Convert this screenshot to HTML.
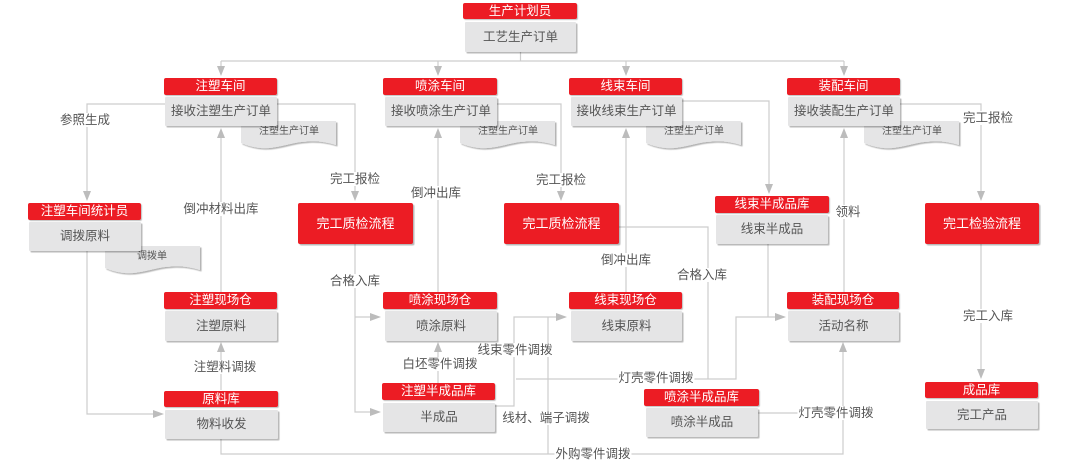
<!DOCTYPE html>
<html><head><meta charset="utf-8">
<style>
html,body{margin:0;padding:0;background:#fff;}
#c{position:relative;width:1080px;height:473px;overflow:hidden;background:#fff;font-family:"Liberation Sans","Noto Sans CJK SC",sans-serif;}
svg{position:absolute;left:0;top:0;}
.h{position:absolute;background:#ec1c24;color:#fff;font-size:12.5px;text-align:center;border-radius:2px;box-shadow:1px 1px 1px rgba(0,0,0,.25);white-space:nowrap;}
.b{position:absolute;background:#e5e5e6;color:#555;font-size:12.5px;text-align:center;border-radius:1px;box-shadow:1.5px 1.5px 1px rgba(0,0,0,.28);white-space:nowrap;}
.r{position:absolute;background:#ec1c24;color:#fff;font-size:13px;text-align:center;border-radius:2px;box-shadow:1.5px 1.5px 1px rgba(0,0,0,.28);white-space:nowrap;}
.l{position:absolute;background:#fff;color:#555;font-size:12.5px;line-height:14px;padding:0 1px;white-space:nowrap;transform:translate(-50%,-50%);}
</style></head><body>
<div id="c">
<svg width="1080" height="473" viewBox="0 0 1080 473">
<defs>
<filter id="sh" x="-10%" y="-10%" width="130%" height="140%"><feDropShadow dx="1.5" dy="1.5" stdDeviation="0.6" flood-color="#000" flood-opacity="0.3"/></filter>
<path id="doc" d="M0,0 H95 V24 C85,21 75,19 60,21 C45,23 35,28 20,27 C10,26 5,24 0,22 Z"/>
</defs>
<g fill="#e5e5e6" filter="url(#sh)">
<use href="#doc" x="241" y="121"/>
<use href="#doc" x="460" y="121"/>
<use href="#doc" x="646" y="121"/>
<use href="#doc" x="864" y="121"/>
<use href="#doc" x="105" y="246"/>
</g>
<g font-family="Liberation Sans, Noto Sans CJK SC, sans-serif" font-size="10" fill="#555" text-anchor="middle">
<text x="289" y="134">注塑生产订单</text>
<text x="508" y="134">注塑生产订单</text>
<text x="694" y="134">注塑生产订单</text>
<text x="912" y="134">注塑生产订单</text>
<text x="152" y="259">调拨单</text>
</g>
<g fill="none" stroke="#cdcdcd" stroke-width="1.2">
<path d="M520.5,52 V61"/>
<path d="M221,61 H844"/>
<path d="M221,61 V70 M438,61 V70 M626,61 V70 M844,61 V70"/>
<path d="M277,104 H355 V195"/>
<path d="M165,104 H87 V195"/>
<path d="M221,292 V134"/>
<path d="M497,104 H561 V195"/>
<path d="M438,292 V134"/>
<path d="M682,101 H769 V188"/>
<path d="M626,292 V134"/>
<path d="M900,104 H981 V195"/>
<path d="M844,292 V134"/>
<path d="M87,251 V414 H156"/>
<path d="M221,390 V348"/>
<path d="M221,439 V454 H843 V348"/>
<path d="M355,244 V412 H373"/>
<path d="M355,317 H373"/>
<path d="M438,383 V348"/>
<path d="M495,406 H514 V317 H559"/>
<path d="M516,379 H736 V317 H778"/>
<path d="M548,317 V454"/>
<path d="M619,227 H708 V379"/>
<path d="M768,244 V317"/>
<path d="M758,413 H843"/>
<path d="M981,244 V373"/>
</g>
<g fill="#bcbcbc">
<!-- down arrows -->
<polygon points="217,66 225,66 221,76"/>
<polygon points="434,66 442,66 438,76"/>
<polygon points="622,66 630,66 626,76"/>
<polygon points="840,66 848,66 844,76"/>
<polygon points="351,191 359,191 355,201"/>
<polygon points="83,191 91,191 87,201"/>
<polygon points="557,191 565,191 561,201"/>
<polygon points="765,184 773,184 769,194"/>
<polygon points="977,191 985,191 981,201"/>
<polygon points="977,369 985,369 981,379"/>
<!-- up arrows -->
<polygon points="217,138 225,138 221,128"/>
<polygon points="434,138 442,138 438,128"/>
<polygon points="622,138 630,138 626,128"/>
<polygon points="840,138 848,138 844,128"/>
<polygon points="217,352 225,352 221,342"/>
<polygon points="434,352 442,352 438,342"/>
<polygon points="839,352 847,352 843,342"/>
<!-- right arrows -->
<polygon points="153,410 153,418 164,414"/>
<polygon points="370,313 370,321 381,317"/>
<polygon points="370,408 370,416 381,412"/>
<polygon points="556,313 556,321 567,317"/>
<polygon points="775,313 775,321 786,317"/>
</g>
</svg>

<!-- labels -->
<div class="l" style="left:85px;top:120px">参照生成</div>
<div class="l" style="left:355px;top:179px">完工报检</div>
<div class="l" style="left:221px;top:209px">倒冲材料出库</div>
<div class="l" style="left:436px;top:193px">倒冲出库</div>
<div class="l" style="left:561px;top:180px">完工报检</div>
<div class="l" style="left:626px;top:260px">倒冲出库</div>
<div class="l" style="left:848px;top:212px">领料</div>
<div class="l" style="left:988px;top:118px">完工报检</div>
<div class="l" style="left:988px;top:316px">完工入库</div>
<div class="l" style="left:355px;top:281px">合格入库</div>
<div class="l" style="left:702px;top:275px">合格入库</div>
<div class="l" style="left:225px;top:367px">注塑料调拨</div>
<div class="l" style="left:440px;top:364px">白坯零件调拨</div>
<div class="l" style="left:515px;top:350px">线束零件调拨</div>
<div class="l" style="left:656px;top:378px">灯壳零件调拨</div>
<div class="l" style="left:546px;top:418px">线材、端子调拨</div>
<div class="l" style="left:593px;top:454px">外购零件调拨</div>
<div class="l" style="left:836px;top:413px">灯壳零件调拨</div>

<!-- boxes -->
<div class="h" style="left:463px;top:3px;width:114px;height:16px;line-height:16px">生产计划员</div>
<div class="b" style="left:465px;top:22px;width:111px;height:30px;line-height:30px">工艺生产订单</div>

<div class="h" style="left:164px;top:78px;width:113px;height:17px;line-height:17px">注塑车间</div>
<div class="b" style="left:165px;top:97px;width:112px;height:29px;line-height:29px">接收注塑生产订单</div>
<div class="h" style="left:383px;top:78px;width:114px;height:17px;line-height:17px">喷涂车间</div>
<div class="b" style="left:385px;top:97px;width:112px;height:29px;line-height:29px">接收喷涂生产订单</div>
<div class="h" style="left:569px;top:78px;width:113px;height:17px;line-height:17px">线束车间</div>
<div class="b" style="left:571px;top:97px;width:111px;height:29px;line-height:29px">接收线束生产订单</div>
<div class="h" style="left:787px;top:78px;width:113px;height:17px;line-height:17px">装配车间</div>
<div class="b" style="left:788px;top:97px;width:112px;height:29px;line-height:29px">接收装配生产订单</div>

<div class="h" style="left:28px;top:203px;width:113px;height:17px;line-height:17px">注塑车间统计员</div>
<div class="b" style="left:29px;top:222px;width:112px;height:29px;line-height:29px">调拨原料</div>

<div class="r" style="left:298px;top:203px;width:115px;height:41px;line-height:41px">完工质检流程</div>
<div class="r" style="left:504px;top:203px;width:115px;height:41px;line-height:41px">完工质检流程</div>
<div class="r" style="left:925px;top:203px;width:114px;height:41px;line-height:41px">完工检验流程</div>

<div class="h" style="left:715px;top:196px;width:114px;height:17px;line-height:17px">线束半成品库</div>
<div class="b" style="left:716px;top:215px;width:112px;height:29px;line-height:29px">线束半成品</div>

<div class="h" style="left:164px;top:292px;width:113px;height:17px;line-height:17px">注塑现场仓</div>
<div class="b" style="left:165px;top:311px;width:112px;height:30px;line-height:30px">注塑原料</div>
<div class="h" style="left:383px;top:292px;width:114px;height:17px;line-height:17px">喷涂现场仓</div>
<div class="b" style="left:385px;top:311px;width:112px;height:30px;line-height:30px">喷涂原料</div>
<div class="h" style="left:569px;top:292px;width:113px;height:17px;line-height:17px">线束现场仓</div>
<div class="b" style="left:571px;top:311px;width:111px;height:30px;line-height:30px">线束原料</div>
<div class="h" style="left:787px;top:292px;width:112px;height:17px;line-height:17px">装配现场仓</div>
<div class="b" style="left:788px;top:311px;width:111px;height:30px;line-height:30px">活动名称</div>

<div class="h" style="left:164px;top:391px;width:114px;height:16px;line-height:16px">原料库</div>
<div class="b" style="left:165px;top:410px;width:113px;height:29px;line-height:29px">物料收发</div>
<div class="h" style="left:382px;top:383px;width:113px;height:17px;line-height:17px">注塑半成品库</div>
<div class="b" style="left:383px;top:403px;width:112px;height:29px;line-height:29px">半成品</div>
<div class="h" style="left:644px;top:389px;width:115px;height:17px;line-height:17px">喷涂半成品库</div>
<div class="b" style="left:646px;top:408px;width:112px;height:29px;line-height:29px">喷涂半成品</div>
<div class="h" style="left:925px;top:382px;width:113px;height:16px;line-height:16px">成品库</div>
<div class="b" style="left:926px;top:401px;width:112px;height:28px;line-height:28px">完工产品</div>
</div>
</body></html>
